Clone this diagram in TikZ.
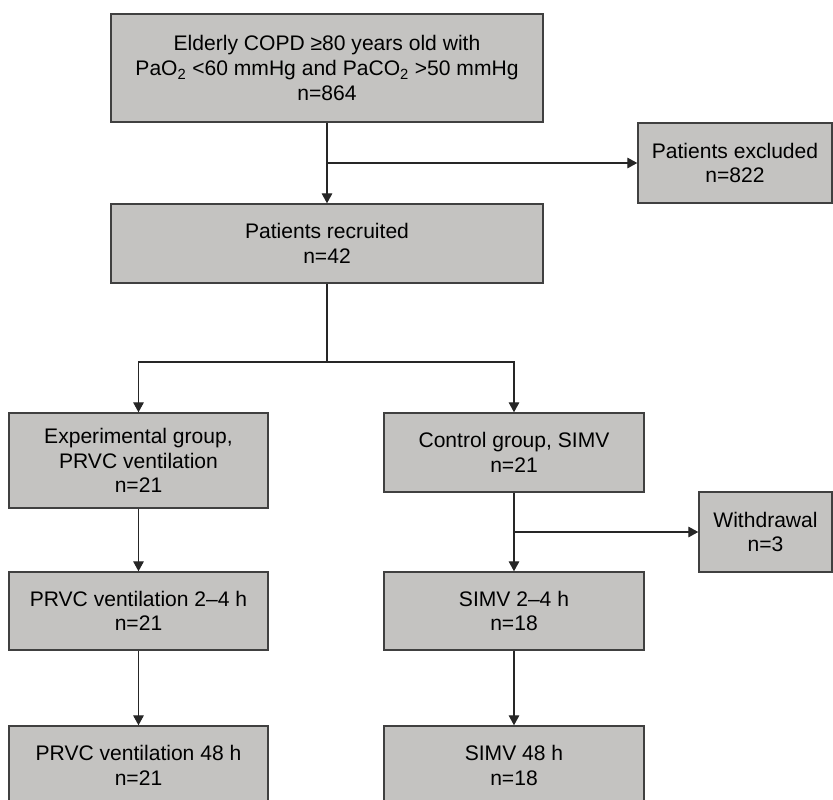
\documentclass[tikz,border=0pt]{standalone}
\usepackage{fontspec}
\setmainfont{Liberation Sans}
\usetikzlibrary{arrows.meta}
\definecolor{boxfill}{RGB}{196,195,193}
\definecolor{boxline}{RGB}{64,64,64}
\tikzset{
  box/.style={draw=boxline,fill=boxfill,line width=1.1pt,align=center,inner sep=0pt,
    font=\fontsize{15.8}{18.5}\selectfont},
  arr/.style={line width=0.8pt,draw=black!85,-{Triangle[length=7.5pt,width=8pt]}},
  ln/.style={line width=0.8pt,draw=black!85}
}
\begin{document}
\begin{tikzpicture}[x=0.75pt,y=-0.75pt]
\useasboundingbox (0,0) rectangle (833,800);

\node[box,minimum width=324pt,minimum height=81pt] (elderly) at (327,68)
  {Elderly COPD ≥80 years old with\\PaO\textsubscript{2} <60 mmHg and PaCO\textsubscript{2} >50 mmHg\\n=864};
\node[box,minimum width=145.5pt,minimum height=60pt] (excl) at (735,163) {Patients excluded\\n=822};
\node[box,minimum width=324pt,minimum height=59.25pt] (recr) at (327,243.5) {Patients recruited\\n=42};
\node[box,minimum width=194.25pt,minimum height=71.25pt] (expg) at (138.5,460.5) {Experimental group,\\PRVC ventilation\\n=21};
\node[box,minimum width=195pt,minimum height=59.25pt] (ctrl) at (514,452.5) {Control group, SIMV\\n=21};
\node[box,minimum width=99.75pt,minimum height=60pt] (wdraw) at (765.5,532) {Withdrawal\\n=3};
\node[box,minimum width=194.25pt,minimum height=58.5pt] (prvcA) at (138.5,611) {PRVC ventilation 2–4 h\\n=21};
\node[box,minimum width=195pt,minimum height=58.5pt] (simvA) at (514,611) {SIMV 2–4 h\\n=18};
\node[box,minimum width=194.25pt,minimum height=59.25pt] (prvcB) at (138.5,765.5) {PRVC ventilation 48 h\\n=21};
\node[box,minimum width=195pt,minimum height=59.25pt] (simvB) at (514,765.5) {SIMV 48 h\\n=18};

\coordinate (exbranch) at (327,163);
\coordinate (split) at (327,362);
\coordinate (wdbranch) at (514,532);

\draw[arr] (elderly) -- (recr);
\draw[arr] (exbranch) -- (excl);
\draw[ln] (recr.south) -- (split);
\draw[arr] (split) -| (expg.north);
\draw[arr] (split) -| (ctrl.north);
\draw[arr] (ctrl) -- (simvA);
\draw[arr] (wdbranch) -- (wdraw);
\draw[arr] (expg) -- (prvcA);
\draw[arr] (prvcA) -- (prvcB);
\draw[arr] (simvA) -- (simvB);

\end{tikzpicture}
\end{document}
